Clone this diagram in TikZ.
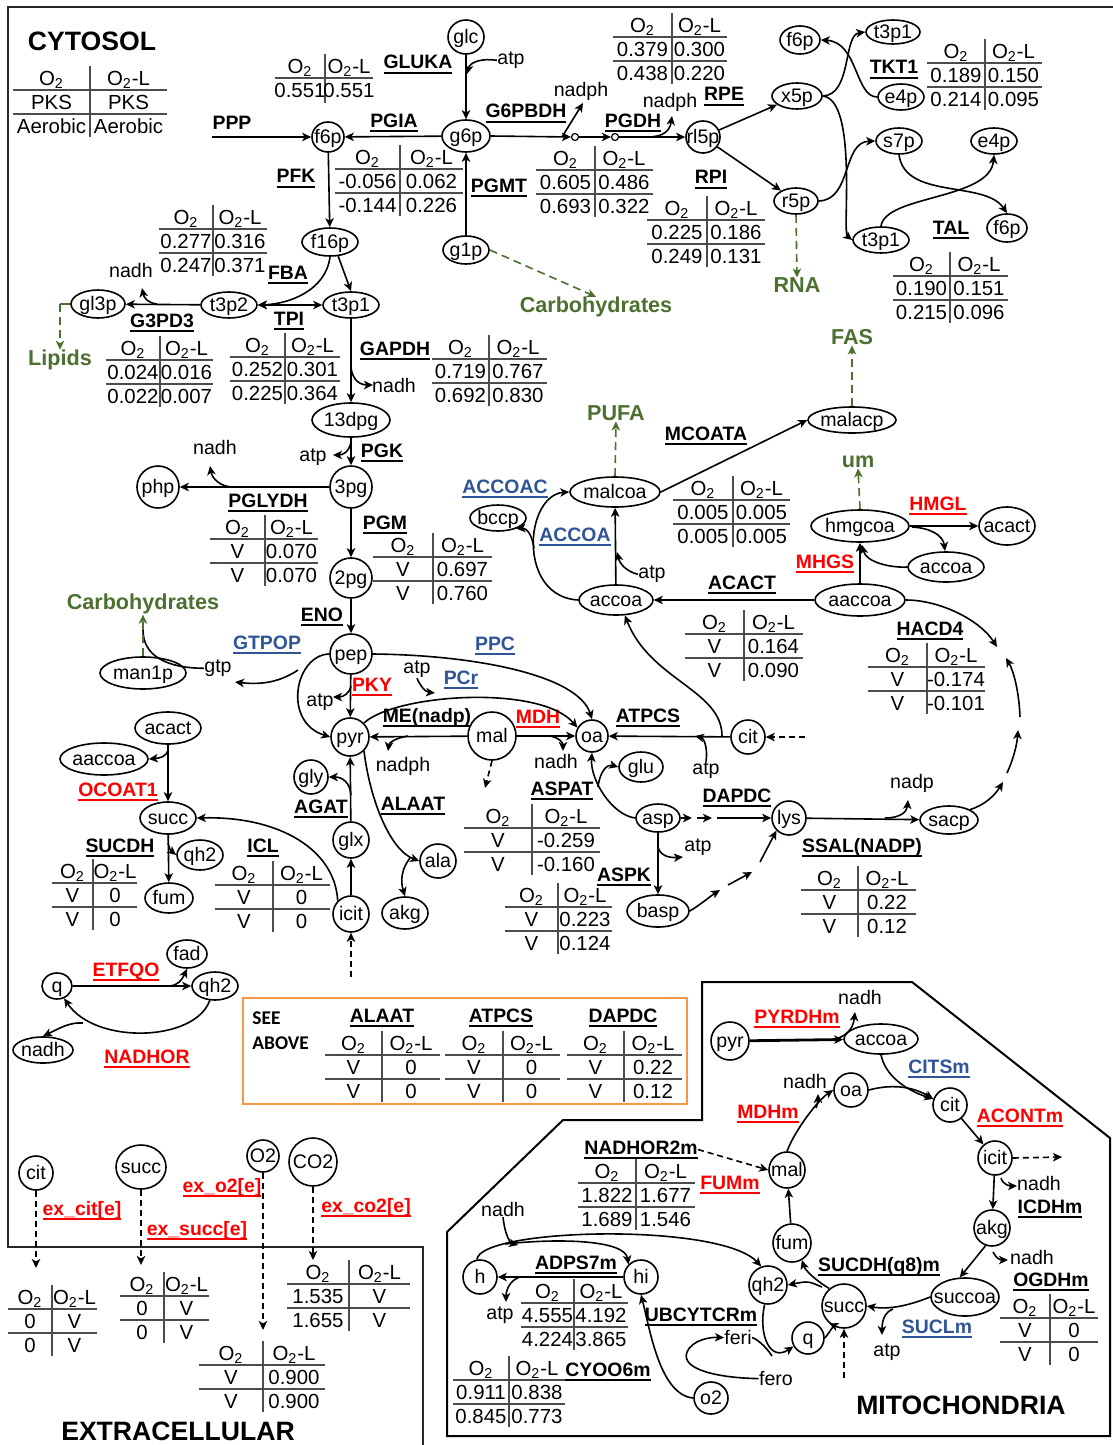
\documentclass[tikz,border=0pt]{standalone}
\usepackage{fontspec}
\setmainfont{Liberation Sans}
\newfontfamily\calfont{Carlito}
\usetikzlibrary{arrows.meta,shapes.geometric}
\definecolor{rxred}{RGB}{255,0,0}
\definecolor{rxblue}{RGB}{47,85,151}
\definecolor{gcol}{RGB}{76,112,48}
\definecolor{ocol}{RGB}{247,150,70}
\newcommand{\ul}[1]{\setbox0=\hbox{#1}\dimen0=\wd0 \box0\kern-\dimen0\rule[-2.3pt]{\dimen0}{0.9pt}}
\tikzset{
 met/.style={draw, ellipse, line width=0.8pt, inner sep=0pt},
 lab/.style={font=\fontsize{9.8}{11}\selectfont, inner sep=0pt, anchor=base, yshift=-3.3pt},
 tt/.style={font=\fontsize{10.2}{12}\selectfont, inner sep=0pt, anchor=base, yshift=-3.6pt},
 rxn/.style={font=\bfseries\fontsize{9.7}{11}\selectfont, inner sep=0pt, anchor=base, yshift=-3.5pt},
 rr/.style={rxn, text=rxred},
 rb/.style={rxn, text=rxblue},
 grn/.style={font=\bfseries\fontsize{10.8}{12}\selectfont, text=gcol, inner sep=0pt, anchor=base, yshift=-3.9pt},
 ttl/.style={font=\bfseries\fontsize{13.3}{15}\selectfont, inner sep=0pt, anchor=base, yshift=-4.8pt},
 tl/.style={line width=0.6pt, black!70},
 mtip/.tip={Stealth[length=4.5pt,width=4.2pt,inset=1.2pt]},
 ar/.style={line width=0.8pt, -mtip},
 arb/.style={line width=0.8pt, mtip-mtip},
 dar/.style={line width=0.8pt, -mtip, dash pattern=on 3pt off 2pt},
 gar/.style={line width=0.8pt, gcol, -mtip, dash pattern=on 4pt off 2.5pt},
 ln/.style={line width=0.8pt},
 smc/.style={draw, circle, inner sep=0pt, minimum size=3.5pt, line width=0.6pt}
}
% metabolite node: name, position, text, rx, ry (in px)
\newcommand{\MN}[5]{\node[met,minimum width=#4pt,minimum height=#5pt] (#1) at (#2) {}; \node[lab] (#1-t) at (#2) {#3};}
\newcommand{\RX}[4]{\node[#1] (#2) at (#3) {\ul{#4}};}
% flux table: x of divider, y of header, left width, right width, four entries
\newcommand{\FT}[8]{%
 \draw[tl] ({#1-#3},{#2+12}) -- ({#1+#4},{#2+12});
 \draw[tl] ({#1-#3},{#2+36}) -- ({#1+#4},{#2+36});
 \draw[tl] (#1,{#2-12}) -- (#1,{#2+59});
 \node[tt] at ({#1-#3/2},#2) {O\textsubscript{2}};
 \node[tt] at ({#1+#4/2},#2) {O\textsubscript{2}-L};
 \node[tt] at ({#1-#3/2},{#2+24}) {#5};
 \node[tt] at ({#1+#4/2},{#2+24}) {#6};
 \node[tt] at ({#1-#3/2},{#2+48}) {#7};
 \node[tt] at ({#1+#4/2},{#2+48}) {#8};}
\newcommand{\FTone}[6]{%
 \draw[tl] ({#1-#3},{#2+12}) -- ({#1+#4},{#2+12});
 \draw[tl] (#1,{#2-12}) -- (#1,{#2+37});
 \node[tt] at ({#1-#3/2},#2) {O\textsubscript{2}};
 \node[tt] at ({#1+#4/2},#2) {O\textsubscript{2}-L};
 \node[tt] at ({#1-#3/2},{#2+24}) {#5};
 \node[tt] at ({#1+#4/2},{#2+24}) {#6};}
\begin{document}
\begin{tikzpicture}[x=0.5pt,y=-0.5pt]
\useasboundingbox (0,0) rectangle (1113,1445);
\fill[white] (0,0) rectangle (1113,1445);
% ---------- frames
\draw[line width=0.8pt, black!85] (1113,7) -- (8,7) -- (8,1247) -- (423,1247) -- (423,1445);
\draw[line width=1pt] (702,982) -- (912,982) -- (1110,1138) -- (1110,1436) -- (447,1436) -- (447,1232) -- (563,1120) -- (702,1120) -- cycle;
\draw[ocol, line width=1pt] (243,998) rectangle (687,1104);
% ---------- titles
\node[ttl] (cyto) at (92,41) {CYTOSOL};
\node[ttl] (extra) at (178,1431) {EXTRACELLULAR};
\node[ttl] (mito) at (961,1405) {MITOCHONDRIA};
\FT{90}{78}{77}{77}{PKS}{PKS}{Aerobic}{Aerobic}
% ---------- metabolites: cytosol top
\MN{f6pA}{328,137}{f6p}{16}{15}
\MN{glc}{466,37}{glc}{18}{17}
\MN{g6p}{466,136}{g6p}{24}{16}
\MN{g1p}{466,250}{g1p}{23}{14}
\MN{rl5p}{703,137}{rl5p}{17}{16}
\MN{x5p}{797,96}{x5p}{25}{13}
\MN{r5p}{796,201}{r5p}{22}{13}
\MN{f6pB}{800,40}{f6p}{20}{14}
\MN{t3p1A}{893,32}{t3p1}{27}{12}
\MN{e4pA}{901,97}{e4p}{23}{13}
\MN{s7p}{899,141}{s7p}{23}{13}
\MN{e4pB}{994,141}{e4p}{23}{13}
\MN{t3p1B}{881,240}{t3p1}{28}{13}
\MN{f6pC}{1007,228}{f6p}{20}{14}
\node[smc] (sc1) at (575,137) {};
\node[smc] (sc2) at (615,137) {};
% glycolysis
\MN{f16p}{330,242}{f16p}{28}{14}
\MN{t3p2}{229,305}{t3p2}{28}{13}
\MN{t3p1}{351,305}{t3p1}{28}{13}
\MN{gl3p}{98,304}{gl3p}{27}{14}
\MN{dpg}{351,420}{13dpg}{39}{17}
\MN{pg3}{351,487}{3pg}{21}{21}
\MN{php}{158,487}{php}{21}{21}
\MN{pg2}{351,578}{2pg}{21}{20}
\MN{pep}{351,654}{pep}{21}{20}
\MN{man1p}{143,673}{man1p}{43}{16}
\MN{pyr}{350,737}{pyr}{19}{19}
\MN{mal}{492,736}{mal}{24}{24}
\MN{oa}{592,736}{oa}{16}{16}
\MN{cit}{748,737}{cit}{17}{17}
\MN{glu}{641,767}{glu}{22}{15}
\MN{asp}{658,818}{asp}{22}{14}
\MN{basp}{658,911}{basp}{31}{16}
\MN{lys}{789,818}{lys}{17}{17}
\MN{sacp}{949,820}{sacp}{29}{14}
\MN{accoa}{616,600}{accoa}{37}{15}
\MN{malcoa}{615,492}{malcoa}{45}{15}
\MN{bccp}{498,518}{bccp}{28}{13}
\MN{malacp}{852,420}{malacp}{44}{13}
\MN{hmgcoa}{860,526}{hmgcoa}{49}{16}
\MN{acactR}{1007,526}{acact}{28}{19}
\MN{accoaR}{946,567}{accoa}{38}{15}
\MN{aaccoa}{860,600}{aaccoa}{45}{16}
\MN{acactL}{168,728}{acact}{33}{16}
\MN{aaccoaL}{104,759}{aaccoa}{44}{16}
\MN{succ}{168,818}{succ}{28}{16}
\MN{qh2A}{200,855}{qh2}{23}{15}
\MN{fum}{169,898}{fum}{24}{15}
\MN{icit}{351,914}{icit}{18}{18}
\MN{glx}{351,840}{glx}{18}{18}
\MN{gly}{311,777}{gly}{17}{17}
\MN{ala}{438,861}{ala}{18}{17}
\MN{akg}{405,913}{akg}{23}{16}
\MN{q}{57,986}{q}{15}{13}
\MN{fad}{187,954}{fad}{20}{14}
\MN{qh2B}{215,986}{qh2}{23}{14}
\MN{nadhN}{43,1050}{nadh}{30}{13}
% extracellular
\MN{citE}{36,1173}{cit}{17}{17}
\MN{succE}{141,1167}{succ}{25}{22}
\MN{o2E}{263,1156}{O2}{16}{16}
\MN{co2E}{313,1162}{CO2}{24}{24}
% mitochondria
\MN{pyrM}{730,1041}{pyr}{19}{19}
\MN{accoaM}{881,1039}{accoa}{37}{15}
\MN{oaM}{851,1090}{oa}{17}{17}
\MN{citM}{950,1105}{cit}{17}{17}
\MN{icitM}{995,1158}{icit}{17}{17}
\MN{akgM}{992,1228}{akg}{18}{18}
\MN{succoa}{965,1297}{succoa}{34}{19}
\MN{succM}{844,1306}{succ}{22}{22}
\MN{qM}{808,1338}{q}{16}{16}
\MN{qh2M}{768,1285}{qh2}{19}{19}
\MN{fumM}{792,1243}{fum}{19}{19}
\MN{malM}{787,1170}{mal}{18}{18}
\MN{h}{480,1277}{h}{17}{17}
\MN{hi}{641,1277}{hi}{17}{17}
\MN{o2M}{711,1398}{o2}{17}{16}
% ---------- reaction labels
\node[rxn] (ppp) at (232,122) {PPP};
\RX{rxn}{gluka}{418,62}{GLUKA}
\RX{rxn}{pgia}{394,120}{PGIA}
\RX{rxn}{g6pbdh}{526,111}{G6PBDH}
\RX{rxn}{pgdh}{633,120}{PGDH}
\RX{rxn}{rpe}{724,94}{RPE}
\RX{rxn}{rpi}{711,177}{RPI}
\RX{rxn}{pgmt}{499,185}{PGMT}
\RX{rxn}{pfk}{296,176}{PFK}
\RX{rxn}{tkt}{894,67}{TKT1}
\RX{rxn}{tal}{951,227}{TAL}
\RX{rxn}{fba}{288,272}{FBA}
\RX{rxn}{tpi}{289,318}{TPI}
\RX{rxn}{gpd}{162,320}{G3PD3}
\RX{rxn}{gapdh}{395,348}{GAPDH}
\RX{rxn}{pgk}{382,450}{PGK}
\RX{rxn}{pglydh}{268,500}{PGLYDH}
\RX{rxn}{pgm}{385,522}{PGM}
\RX{rxn}{eno}{322,614}{ENO}
\RX{rb}{gtpop}{267,642}{GTPOP}
\RX{rb}{ppc}{495,643}{PPC}
\RX{rr}{pky}{372,684}{PKY}
\RX{rb}{pcr}{461,677}{PCr}
\RX{rxn}{menadp}{427,715}{ME(nadp)}
\RX{rr}{mdh}{538,716}{MDH}
\RX{rxn}{atpcs}{648,715}{ATPCS}
\RX{rb}{accoac}{505,486}{ACCOAC}
\RX{rb}{accoalab}{575,534}{ACCOA}
\RX{rxn}{mcoata}{706,433}{MCOATA}
\RX{rr}{hmgl}{938,503}{HMGL}
\RX{rr}{mhgs}{825,561}{MHGS}
\RX{rxn}{acact}{742,582}{ACACT}
\RX{rxn}{hacd}{930,628}{HACD4}
\RX{rr}{ocoat}{118,789}{OCOAT1}
\RX{rxn}{sucdh}{120,845}{SUCDH}
\RX{rxn}{icl}{263,845}{ICL}
\RX{rxn}{agat}{321,806}{AGAT}
\RX{rxn}{alaat}{413,803}{ALAAT}
\RX{rxn}{aspat}{562,788}{ASPAT}
\RX{rxn}{dapdc}{737,795}{DAPDC}
\RX{rxn}{aspk}{624,874}{ASPK}
\RX{rxn}{ssal}{862,845}{SSAL(NADP)}
\RX{rr}{etfqo}{126,969}{ETFQO}
\RX{rr}{nadhor}{147,1056}{NADHOR}
\RX{rxn}{alaatB}{382,1015}{ALAAT}
\RX{rxn}{atpcsB}{501,1015}{ATPCS}
\RX{rxn}{dapdcB}{623,1015}{DAPDC}
\RX{rr}{excit}{82,1208}{ex\_cit[e]}
\RX{rr}{exsucc}{197,1228}{ex\_succ[e]}
\RX{rr}{exo2}{222,1185}{ex\_o2[e]}
\RX{rr}{exco2}{366,1205}{ex\_co2[e]}
\RX{rr}{pyrdhm}{797,1016}{PYRDHm}
\RX{rb}{citsm}{939,1066}{CITSm}
\RX{rr}{mdhm}{768,1111}{MDHm}
\RX{rr}{acontm}{1020,1115}{ACONTm}
\RX{rxn}{nadhor2m}{641,1147}{NADHOR2m}
\RX{rr}{fumm}{730,1182}{FUMm}
\RX{rxn}{icdhm}{1050,1206}{ICDHm}
\RX{rxn}{sucdhm}{879,1264}{SUCDH(q8)m}
\RX{rxn}{adps}{576,1262}{ADPS7m}
\RX{rxn}{ogdhm}{1051,1279}{OGDHm}
\RX{rxn}{ubcytcr}{701,1314}{UBCYTCRm}
\RX{rb}{suclm}{937,1326}{SUCLm}
\RX{rxn}{cyoo}{608,1369}{CYOO6m}
\node[font=\calfont\bfseries\fontsize{9.7}{11}\selectfont, anchor=base west, inner sep=0pt] (see) at (252,1024) {SEE};
\node[font=\calfont\bfseries\fontsize{9.7}{11}\selectfont, anchor=base west, inner sep=0pt] (above) at (252,1049) {ABOVE};
% ---------- green sinks
\node[grn] (carbA) at (596,305) {Carbohydrates};
\node[grn] (rna) at (797,285) {RNA};
\node[grn] (lipids) at (60,358) {Lipids};
\node[grn] (fas) at (852,337) {FAS};
\node[grn] (pufa) at (616,413) {PUFA};
\node[grn] (um) at (858,460) {um};
\node[grn] (carbB) at (143,602) {Carbohydrates};
% ---------- cofactor labels
\node[lab] (atp1) at (511,58) {atp};
\node[lab] (nadph1) at (581,90) {nadph};
\node[lab] (nadph2) at (670,101) {nadph};
\node[lab] (nadhA) at (131,271) {nadh};
\node[lab] (nadhG) at (394,386) {nadh};
\node[lab] (atpK) at (313,455) {atp};
\node[lab] (nadhP) at (215,448) {nadh};
\node[lab] (gtp) at (218,666) {gtp};
\node[lab] (atpY) at (320,700) {atp};
\node[lab] (atpP) at (417,667) {atp};
\node[lab] (nadphM) at (403,765) {nadph};
\node[lab] (nadhMD) at (556,762) {nadh};
\node[lab] (atpC) at (706,768) {atp};
\node[lab] (atpAS) at (698,845) {atp};
\node[lab] (nadp) at (912,782) {nadp};
\node[lab] (atpA) at (652,572) {atp};
\node[lab] (nadhM1) at (860,998) {nadh};
\node[lab] (nadhM2) at (805,1082) {nadh};
\node[lab] (nadhM3) at (1039,1184) {nadh};
\node[lab] (nadhM4) at (1032,1258) {nadh};
\node[lab] (atpM) at (887,1350) {atp};
\node[lab] (nadhM5) at (503,1210) {nadh};
\node[lab] (atpM2) at (500,1313) {atp};
\node[lab] (feri) at (738,1338) {feri};
\node[lab] (fero) at (776,1379) {fero};
% ---------- tables
\FTone{325}{66}{50}{48}{0.551}{0.551}
\FT{672}{25}{59}{55}{0.379}{0.300}{0.438}{0.220}
\FT{400}{157}{65}{63}{-0.056}{0.062}{-0.144}{0.226}
\FT{595}{158}{59}{58}{0.605}{0.486}{0.693}{0.322}
\FT{707}{208}{60}{58}{0.225}{0.186}{0.249}{0.131}
\FT{985}{51}{58}{57}{0.189}{0.150}{0.214}{0.095}
\FT{950}{264}{57}{58}{0.190}{0.151}{0.215}{0.096}
\FT{213}{217}{54}{54}{0.277}{0.316}{0.247}{0.371}
\FT{160}{348}{54}{53}{0.024}{0.016}{0.022}{0.007}
\FT{285}{345}{55}{55}{0.252}{0.301}{0.225}{0.364}
\FT{489}{347}{57}{58}{0.719}{0.767}{0.692}{0.830}
\FT{265}{527}{55}{53}{V}{0.070}{V}{0.070}
\FT{433}{545}{60}{59}{V}{0.697}{V}{0.760}
\FT{733}{488}{60}{57}{0.005}{0.005}{0.005}{0.005}
\FT{744}{622}{59}{59}{V}{0.164}{V}{0.090}
\FT{927}{655}{59}{58}{V}{-0.174}{V}{-0.101}
\FT{93}{871}{41}{44}{V}{0}{V}{0}
\FT{273}{873}{58}{57}{V}{0}{V}{0}
\FT{532}{816}{68}{68}{V}{-0.259}{V}{-0.160}
\FT{558}{895}{53}{54}{V}{0.223}{V}{0.124}
\FT{858}{878}{57}{58}{V}{0.22}{V}{0.12}
\FT{382}{1043}{57}{58}{V}{0}{V}{0}
\FT{503}{1043}{58}{57}{V}{0}{V}{0}
\FT{624}{1043}{57}{58}{V}{0.22}{V}{0.12}
\FT{52}{1297}{44}{45}{0}{V}{0}{V}
\FT{164}{1284}{44}{45}{0}{V}{0}{V}
\FT{263}{1353}{64}{62}{V}{0.900}{V}{0.900}
\FT{349}{1272}{62}{61}{1.535}{V}{1.655}{V}
\FT{636}{1171}{58}{59}{1.822}{1.677}{1.689}{1.546}
\FT{574}{1291}{53}{54}{4.555}{4.192}{4.224}{3.865}
\FT{509}{1368}{56}{56}{0.911}{0.838}{0.845}{0.773}
\FT{1050}{1306}{50}{48}{V}{0}{V}{0}
% ---------- connectors: top
\coordinate (pppS) at (212,137);
\draw[ar] (pppS) -- (f6pA);
\draw[ar] (g6p) -- (f6pA);
\draw[ar] (glc) -- (g6p);
\draw[ar] (atp1.west) .. controls (482,58) and (470,62) .. (467,74);
\draw[ar] (g1p) -- (g6p);
\draw[gar] (g1p.east) -- (carbA.north);
\draw[ar] (g6p.east) -- (sc1.west);
\draw[ar] (sc1.east) -- (sc2.west);
\draw[ar] (sc2.east) -- (rl5p.west);
\draw[ar] (562,137) -- (583,103);
\draw[ar] (648,137) .. controls (664,137) and (670,130) .. (672,116);
\draw[ar] (rl5p) -- (x5p);
\draw[ar] (rl5p) -- (r5p);
\draw[gar] (r5p.south) -- (rna.north);
\draw[ar] (x5p.east) .. controls (852,95) and (843,35) .. (t3p1A.west);
\draw[ar] (e4pA.west) .. controls (855,97) and (858,42) .. (f6pB.east);
\draw[ar] (x5p.east) .. controls (858,100) and (842,232) .. (t3p1B.west);
\draw[ar] (r5p.east) .. controls (852,200) and (842,142) .. (s7p.west);
\draw[ar] (s7p.south) .. controls (905,200) and (985,180) .. (f6pC.north);
\draw[ar] (t3p1B.north) .. controls (885,195) and (990,200) .. (e4pB.south);
% glycolysis
\draw[ar] (f6pA) -- (f16p);
\draw[ar] (f16p.south) .. controls (326,290) and (290,304) .. (t3p2.east);
\draw[ar] (f16p.-60) -- (t3p1.north);
\draw[arb] (t3p2) -- (t3p1);
\draw[ar] (t3p2) -- (gl3p);
\draw[ar] (157,304) .. controls (148,303) and (144,298) .. (142,288);
\draw[line width=0.8pt, gcol] (gl3p.west) -- (60,304);
\draw[gar] (60,304) -- (lipids.north);
\draw[ar] (t3p1) -- (dpg);
\draw[ar] (351,368) .. controls (353,382) and (362,385) .. (373,385);
\draw[ar] (dpg) -- (pg3);
\draw[ar] (351,442) .. controls (349,452) and (343,455) .. (333,455);
\draw[ar] (pg3) -- (php);
\draw[ar] (233,487) .. controls (220,487) and (212,478) .. (210,466);
\draw[ar] (pg3) -- (pg2);
\draw[ar] (pg2) -- (pep);
\draw[ar] (pep) -- (pyr);
\draw[ar] (351,686) .. controls (349,694) and (343,697) .. (333,697);
\draw[ar] (pep.west) .. controls (295,655) and (282,722) .. (pyr.west);
\draw[ar] (298,670) .. controls (280,682) and (262,685) .. (235,682);
\draw[ln] (gtp.west) .. controls (165,668) and (143,655) .. (143,630);
\draw[gar] (man1p.north) -- (carbB.south);
\draw[ar] (pep.east) .. controls (475,655) and (578,675) .. (oa.north);
\draw[ar] (pyr.north east) .. controls (395,694) and (540,684) .. (oa.150);
\draw[ar] (atpP.south) .. controls (419,684) and (425,692) .. (435,693);
\draw[ar] (mal) -- (pyr);
\draw[ar] (408,736) .. controls (395,738) and (389,743) .. (388,751);
\draw[ar] (mal) -- (oa);
\draw[ar] (550,736) .. controls (560,738) and (563,743) .. (563,751);
\draw[dar] (mal.south) -- (485,788);
\draw[ar] (cit) -- (oa);
\draw[ar] (atpC.north) .. controls (708,748) and (704,738) .. (695,736);
\draw[ar] (722,736) .. controls (722,690) and (650,680) .. (accoa.-60);
\coordinate (citIn) at (805,737);
\draw[dar] (citIn) -- (cit.east);
\draw[ar] (asp.west) .. controls (612,815) and (590,780) .. (oa.south);
\draw[ar] (598,787) .. controls (600,770) and (608,764) .. (glu.west);
\draw[ar] (asp.east) -- (692,818);
\draw[ar] (697,818) -- (712,818);
\draw[ar] (717,818) -- (lys.west);
\draw[ar] (asp) -- (basp);
\draw[ar] (658,847) .. controls (660,856) and (670,858) .. (683,857);
\draw[ar] (basp.east) .. controls (700,905) and (712,895) .. (720,890);
\draw[ar] (728,885) -- (752,872);
\draw[ar] (760,862) -- (lys.south west);
\draw[ar] (lys) -- (sacp);
\draw[ar] (885,818) .. controls (900,818) and (907,812) .. (908,800);
\draw[ar] (sacp.north east) .. controls (985,805) and (995,795) .. (1003,782);
\draw[ar] (1007,773) .. controls (1013,760) and (1017,745) .. (1018,730);
\draw[ar] (1020,717) .. controls (1019,690) and (1013,670) .. (1006,658);
\draw[ar] (aaccoa.east) .. controls (940,600) and (980,620) .. (997,647);
% fatty acids / ketone
\draw[ar] (accoa) -- (malcoa);
\draw[ar] (atpA.west) .. controls (628,572) and (620,565) .. (617,552);
\draw[ar] (accoa.west) .. controls (542,598) and (530,562) .. (534,532) .. controls (538,505) and (552,493) .. (malcoa.west);
\draw[ar] (534,548) .. controls (532,535) and (527,528) .. (bccp.-30);
\draw[gar] (malcoa.north) -- (pufa.south);
\draw[ar] (malcoa.east) -- (malacp.west);
\draw[gar] (malacp.north) -- (fas.south);
\draw[gar] (hmgcoa.north) -- (um.south);
\draw[ar] (hmgcoa.east) -- (acactR.west);
\draw[ar] (912,527) .. controls (930,528) and (943,535) .. (945,551);
\draw[ar] (aaccoa) -- (hmgcoa);
\draw[ar] (accoaR.west) .. controls (890,568) and (866,562) .. (862,545);
\draw[ar] (aaccoa.west) -- (accoa.east);
% lower left
\draw[ar] (acactL) -- (succ);
\draw[ar] (168,750) .. controls (166,757) and (160,758) .. (aaccoaL.east);
\draw[ar] (succ) -- (fum);
\draw[ar] (168,843) .. controls (170,850) .. (qh2A.west);
\draw[ar] (icit.north west) .. controls (335,850) and (280,816) .. (succ.east);
\draw[ar] (icit) -- (glx);
\draw[ar] (glx) -- (pyr);
\draw[ar] (351,795) .. controls (350,782) and (342,777) .. (gly.east);
\coordinate (icitIn) at (351,977);
\draw[dar] (icitIn) -- (icit.south);
\draw[ar] (pyr.south east) .. controls (370,800) and (390,850) .. (ala.west);
\draw[ar] (410,858) .. controls (402,868) and (400,880) .. (akg.north);
\draw[ar] (q) -- (qh2B);
\draw[ar] (170,986) .. controls (178,985) and (182,980) .. (fad.south);
\draw[ar] (qh2B.250) .. controls (195,1042) and (95,1045) .. (q.-60);
\draw[ar] (83,1023) .. controls (70,1022) and (60,1028) .. (nadhN.north);
% extracellular
\coordinate (citEd) at (36,1268);
\coordinate (succEd) at (141,1265);
\coordinate (o2Ed) at (263,1330);
\coordinate (co2Ed) at (313,1260);
\draw[dar] (citE) -- (citEd);
\draw[dar] (succE) -- (succEd);
\draw[dar] (o2E) -- (o2Ed);
\draw[dar] (co2E) -- (co2Ed);
% mitochondria
\draw[ar, line width=1.4pt] (pyrM) -- (accoaM);
\draw[ar] (830,1040) .. controls (845,1038) and (853,1030) .. (855,1012);
\draw[ar] (accoaM.south) .. controls (885,1075) and (905,1090) .. (citM.160);
\draw[ar] (oaM.east) .. controls (895,1083) and (915,1088) .. (citM.160);
\draw[ar] (citM) -- (icitM);
\draw[ar] (icitM) -- (akgM);
\draw[ar] (1001,1178) .. controls (1003,1185) and (1010,1186) .. (1017,1186);
\coordinate (icitOut) at (1062,1157);
\draw[dar] (icitM.east) -- (icitOut);
\draw[ar] (akgM.250) -- (succoa.105);
\draw[ar] (993,1252) .. controls (996,1258) and (1000,1260) .. (1008,1260);
\draw[ar] (succoa.west) .. controls (910,1305) and (890,1310) .. (succM.east);
\draw[ar] (893,1309) .. controls (885,1312) and (882,1320) .. (882,1335);
\draw[ar] (succM.130) .. controls (815,1280) and (805,1270) .. (fumM.-60);
\draw[ar] (822,1287) .. controls (808,1281) .. (qh2M.east);
\draw[ar] (qM.east) .. controls (830,1332) and (833,1325) .. (succM.230);
\coordinate (succMIn) at (844,1378);
\draw[dar] (succMIn) -- (succM.south);
\draw[ar] (fumM) -- (malM);
\draw[ar] (malM.north) .. controls (795,1130) and (818,1100) .. (oaM.west);
\draw[ar] (816,1108) .. controls (818,1102) .. (818,1094);
\draw[dar] (nadhor2m.east) -- (malM.west);
\draw[ar] (hi) -- (h);
\draw[ar] (520,1277) .. controls (510,1280) and (506,1290) .. (506,1302);
\draw[ar] (h.100) .. controls (480,1228) and (720,1222) .. (qh2M.110);
\draw[ar] (505,1244) .. controls (560,1238) and (625,1240) .. (hi.north west);
\draw[ar] (nadhM5.south) .. controls (505,1235) and (510,1243) .. (518,1245);
\draw[ar] (qh2M.-100) .. controls (758,1335) and (770,1362) .. (qM.-150);
\draw[ln] (feri.east) .. controls (755,1338) and (765,1345) .. (772,1356);
\draw[ar] (fero.west) .. controls (720,1378) and (680,1370) .. (687,1352) .. controls (692,1340) and (710,1337) .. (feri.west);
\draw[ar] (o2M.west) .. controls (660,1395) and (650,1330) .. (hi.south);
\end{tikzpicture}
\end{document}
